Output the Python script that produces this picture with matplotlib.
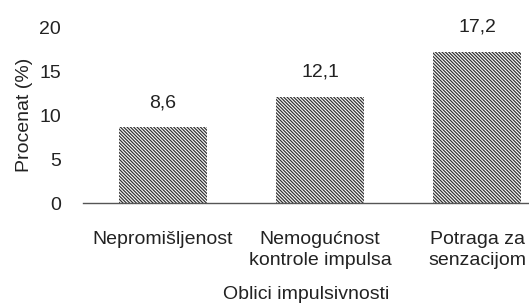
import matplotlib
matplotlib.use('Agg')
import matplotlib.pyplot as plt

categories = ['Nepromišljenost', 'Nemogućnost\nkontrole impulsa', 'Potraga za\nsenzacijom']
values = [8.6, 12.1, 17.2]
value_labels = ['8,6', '12,1', '17,2']
yticks = [0, 5, 10, 15, 20]

plt.rcParams['font.family'] = ['Liberation Sans', 'DejaVu Sans']
plt.rcParams['hatch.linewidth'] = 0.9

fig = plt.figure(figsize=(5.29, 3.08), dpi=100)
ax = fig.add_axes([83/529, 1 - 203/308, (529 - 83)/529, (203 - 27)/308])

x = range(len(categories))
bars = ax.bar(x, values, width=0.56, color='white', edgecolor='#333333',
              linewidth=0, hatch='\\' * 10)
for xi, v, lab in zip(x, values, value_labels):
    ax.text(xi, v + 2.75, lab, ha='center', va='center', fontsize=14, color='#222222')

ax.set_xlim(-0.51, 2.33)
ax.set_ylim(0, 20)
ax.set_yticks(yticks)
ax.set_xticks(list(x))
ax.set_xticklabels(categories, fontsize=14, color='#222222', linespacing=1.35)
ax.tick_params(axis='both', length=0, labelsize=14, colors='#222222')
ax.tick_params(axis='y', pad=16)
ax.tick_params(axis='x', pad=20)
for s in ['top', 'right', 'left']:
    ax.spines[s].set_visible(False)
ax.spines['bottom'].set_color('#555555')
ax.spines['bottom'].set_linewidth(1.0)
ax.set_ylabel('Procenat (%)', fontsize=14, color='#222222', labelpad=4)
ax.set_xlabel('Oblici impulsivnosti', fontsize=14, color='#222222', labelpad=12)

fig.savefig('out.png', dpi=100)
